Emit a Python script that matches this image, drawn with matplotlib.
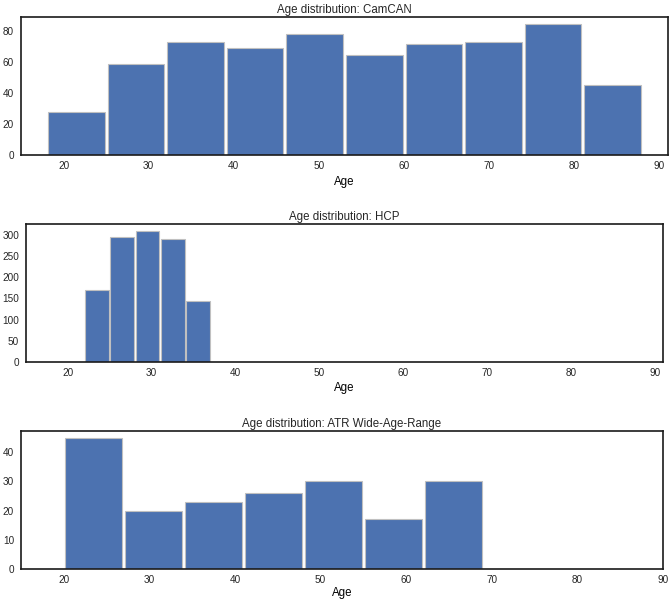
import numpy as np
import matplotlib
matplotlib.use("Agg")
from matplotlib import pyplot as plt
from matplotlib.ticker import MultipleLocator

# bin edges and counts
camcan_edges = [18, 25, 32, 39, 46, 53, 60, 67, 74, 81, 88]
camcan_counts = [28, 59, 73, 69, 78, 65, 72, 73, 85, 45]

hcp_edges = [22, 25, 28, 31, 34, 37]
hcp_counts = [169, 295, 310, 289, 145]

atr_edges = [20, 27, 34, 41, 48, 55, 62, 69]
atr_counts = [45, 20, 23, 26, 30, 17, 30]

titles = ["Age distribution: CamCAN", "Age distribution: HCP",
          "Age distribution: ATR Wide-Age-Range"]
xticks = [20, 30, 40, 50, 60, 70, 80, 90]
ystep = [20, 50, 10]

BAR_COLOR = "#4c72b0"

plt.rcParams.update({
    "font.family": ["Liberation Sans", "DejaVu Sans"],
    "font.size": 8,
    "text.color": "#262626",
    "xtick.color": "#262626",
    "ytick.color": "#262626",
    "xtick.labelsize": 7.2,
    "ytick.labelsize": 7.2,
    "xtick.major.size": 0,
    "ytick.major.size": 0,
    "axes.linewidth": 1.2,
    "axes.edgecolor": "#1a1a1a",
})

fig = plt.figure(figsize=(6.72, 6.02), dpi=100)
positions = [
    [0.0313, 0.7425, 0.9628, 0.2292],
    [0.0387, 0.3987, 0.9480, 0.2292],
    [0.0313, 0.0548, 0.9554, 0.2292],
]
xlims = [(15, 91), (15, 91), (15, 90)]
labelpads = [4, 3, 1.5]
datasets = [(camcan_edges, camcan_counts), (hcp_edges, hcp_counts),
            (atr_edges, atr_counts)]

for pos, title, xlim, step, lp, (edges, counts) in zip(
        positions, titles, xlims, ystep, labelpads, datasets):
    ax = fig.add_axes(pos)
    ax.hist(edges[:-1], bins=edges, weights=counts, rwidth=0.95,
            color=BAR_COLOR, edgecolor="#c0c0c0", linewidth=0.8)
    ax.set_xlim(xlim)
    ax.set_xticks(xticks)
    ax.yaxis.set_major_locator(MultipleLocator(step))
    ax.set_title(title, fontsize=8.3, pad=3)
    ax.set_xlabel("Age", fontsize=8.3, labelpad=lp)
    ax.tick_params(axis="x", pad=4)
    ax.tick_params(axis="y", pad=5)

fig.savefig("out.png", dpi=100)
